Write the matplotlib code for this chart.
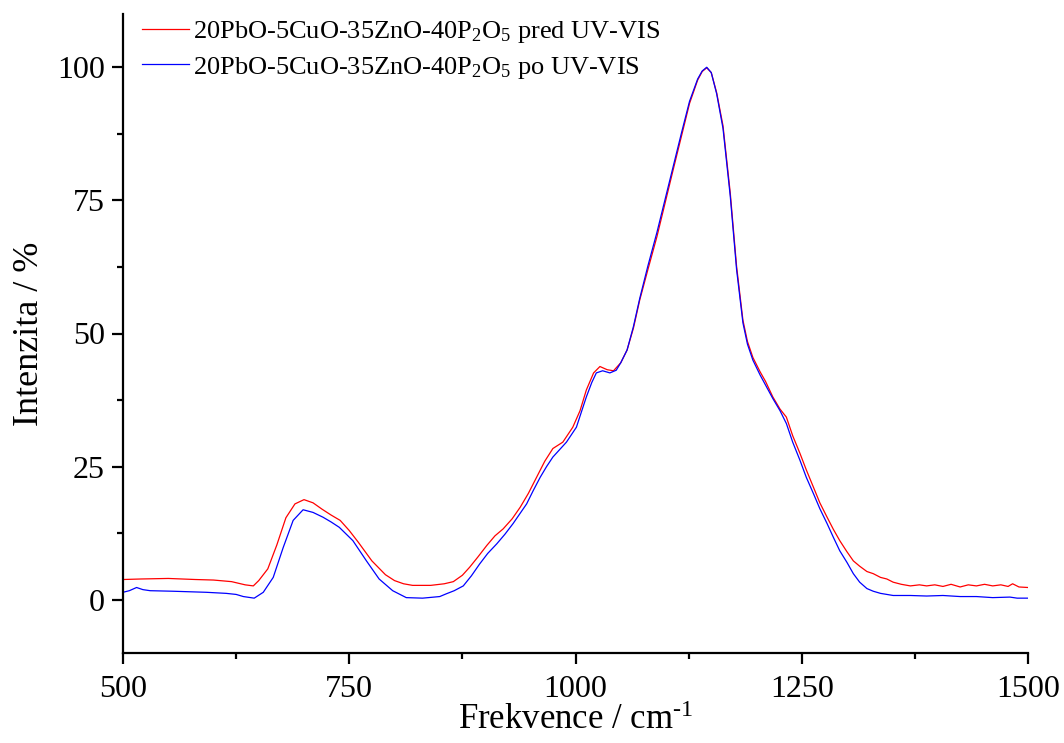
import matplotlib
matplotlib.use("Agg")
import matplotlib.pyplot as plt
from matplotlib.ticker import MultipleLocator

plt.rcParams['font.family'] = ['Liberation Serif', 'DejaVu Serif']
plt.rcParams['mathtext.fontset'] = 'custom'
plt.rcParams['mathtext.rm'] = 'Liberation Serif'
plt.rcParams['mathtext.it'] = 'Liberation Serif:italic'

# pred UV-VIS (red)
x_pred = [500, 520, 550, 580, 600, 620, 635, 644, 650, 660, 670, 680, 690, 700, 710, 720, 730, 740,
          750, 760, 775, 790, 800, 810, 820, 840, 855, 865, 875, 883, 892, 902, 911, 920, 930, 939,
          948, 957, 966, 975, 986, 997, 1005, 1012, 1020, 1027, 1035, 1042, 1050, 1057, 1064, 1071,
          1080, 1090, 1099, 1108, 1117, 1126, 1135, 1140, 1145, 1150, 1156, 1163, 1171, 1178, 1185,
          1190, 1196, 1204, 1210, 1218, 1226, 1233, 1240, 1248, 1255, 1263, 1270, 1278, 1285, 1292,
          1300, 1307, 1314, 1322, 1329, 1337, 1344, 1351, 1360, 1370, 1380, 1388, 1397, 1406, 1415,
          1425, 1434, 1443, 1452, 1461, 1470, 1478, 1483, 1490, 1500]
y_pred = [3.8, 3.9, 4.0, 3.8, 3.7, 3.4, 2.8, 2.6, 3.6, 5.8, 10.3, 15.4, 18.0, 18.8, 18.2, 17.0, 15.9, 14.9,
          13.0, 10.8, 7.3, 4.7, 3.6, 3.0, 2.7, 2.7, 3.0, 3.4, 4.6, 6.1, 8.0, 10.2, 12.0, 13.3, 15.2, 17.4,
          20.0, 23.0, 26.0, 28.4, 29.6, 32.4, 35.5, 39.4, 42.6, 43.8, 43.2, 43.0, 44.5, 46.9, 51.0, 56.3,
          62.0, 68.2, 74.5, 80.8, 87.0, 93.2, 97.6, 99.2, 99.9, 99.0, 95.2, 89.0, 76.4, 62.6, 52.5,
          48.5, 45.5, 42.8, 41.0, 38.1, 35.8, 34.3, 30.8, 27.5, 24.4, 21.1, 18.2, 15.5, 13.2, 11.1,
          9.0, 7.3, 6.3, 5.3, 4.9, 4.2, 3.9, 3.3, 2.9, 2.6, 2.8, 2.6, 2.8, 2.5, 2.9,
          2.4, 2.8, 2.6, 2.9, 2.6, 2.8, 2.5, 3.0, 2.4, 2.3]

# po UV-VIS (blue)
x_po = [500, 507, 515, 522, 530, 555, 592, 614, 625, 633, 645, 655, 666, 677, 688, 699, 710, 721, 730,
        739, 754, 769, 783, 798, 813, 831, 850, 857, 866, 876, 885, 894, 903, 913, 922, 931, 946, 953,
        961, 968, 975, 990, 1001, 1006, 1012, 1018, 1023, 1030, 1038, 1045, 1050, 1057, 1064, 1071,
        1080, 1090, 1099, 1108, 1117, 1126, 1135, 1140, 1145, 1150, 1156, 1163, 1171, 1178, 1185,
        1190, 1196, 1204, 1211, 1218, 1226, 1233, 1240, 1248, 1255, 1263, 1270, 1278, 1285, 1292,
        1300, 1307, 1314, 1322, 1329, 1337, 1351, 1370, 1388, 1406, 1425, 1443, 1461, 1480, 1488, 1500]
y_po = [1.4, 1.7, 2.3, 1.9, 1.7, 1.6, 1.4, 1.2, 1.0, 0.6, 0.3, 1.4, 4.2, 9.8, 14.9, 16.9, 16.4, 15.5, 14.6,
        13.6, 11.1, 7.3, 3.9, 1.7, 0.4, 0.3, 0.6, 1.1, 1.7, 2.6, 4.5, 6.7, 8.7, 10.5, 12.3, 14.3, 18.0, 20.4,
        23.0, 25.0, 26.8, 29.6, 32.4, 35.0, 38.1, 40.8, 42.6, 43.0, 42.6, 43.1, 44.5, 46.9, 51.3, 56.6,
        62.7, 69.0, 75.2, 81.4, 87.6, 93.6, 97.8, 99.3, 100.0, 99.0, 95.0, 88.5, 75.8, 62.0, 52.0,
        48.0, 45.0, 42.2, 40.0, 37.8, 35.5, 33.1, 29.6, 26.2, 23.0, 19.9, 17.1, 14.3, 11.7, 9.2,
        7.0, 4.9, 3.3, 2.1, 1.6, 1.2, 0.8, 0.8, 0.7, 0.8, 0.6, 0.6, 0.4, 0.5, 0.3, 0.3]

label_pred = r'20PbO-5CuO-35ZnO-40P$_\mathregular{2}$O$_\mathregular{5}$ pred UV-VIS'
label_po = r'20PbO-5CuO-35ZnO-40P$_\mathregular{2}$O$_\mathregular{5}$ po UV-VIS'

fig = plt.figure(figsize=(10.64, 7.43), dpi=100)
ax = fig.add_axes([123 / 1064, 1 - 653 / 743, (1028 - 123) / 1064, (653 - 14) / 743])

ax.plot(x_pred, y_pred, color='#ff0000', lw=0.9, label=label_pred)
ax.plot(x_po, y_po, color='#0000ff', lw=0.9, label=label_po)

ax.set_xlim(500, 1500)
ax.set_ylim(-10, 110)
ax.xaxis.set_major_locator(MultipleLocator(250))
ax.xaxis.set_minor_locator(MultipleLocator(125))
ax.yaxis.set_major_locator(MultipleLocator(25))
ax.yaxis.set_minor_locator(MultipleLocator(12.5))

ax.spines['top'].set_visible(False)
ax.spines['right'].set_visible(False)
ax.spines['left'].set_linewidth(1.6)
ax.spines['bottom'].set_linewidth(1.6)
ax.tick_params(which='major', direction='out', length=8, width=1.6, labelsize=23)
ax.tick_params(axis='x', which='major', pad=8)
ax.tick_params(axis='y', which='major', pad=5)
ax.tick_params(which='minor', direction='out', length=4.5, width=1.6)

ax.set_xlabel('Frekvence / cm$^{\\mathregular{\u2010}1}$', fontsize=25, labelpad=0)
ax.set_ylabel('Intenzita / %', fontsize=26, labelpad=8)

ax.legend(loc='upper left', bbox_to_anchor=(0.015, 1.0), frameon=False, fontsize=19,
          handlelength=1.8, handletextpad=0.12, labelspacing=0.35, borderpad=0.2, borderaxespad=0)

fig.savefig('out.png', dpi=100)
